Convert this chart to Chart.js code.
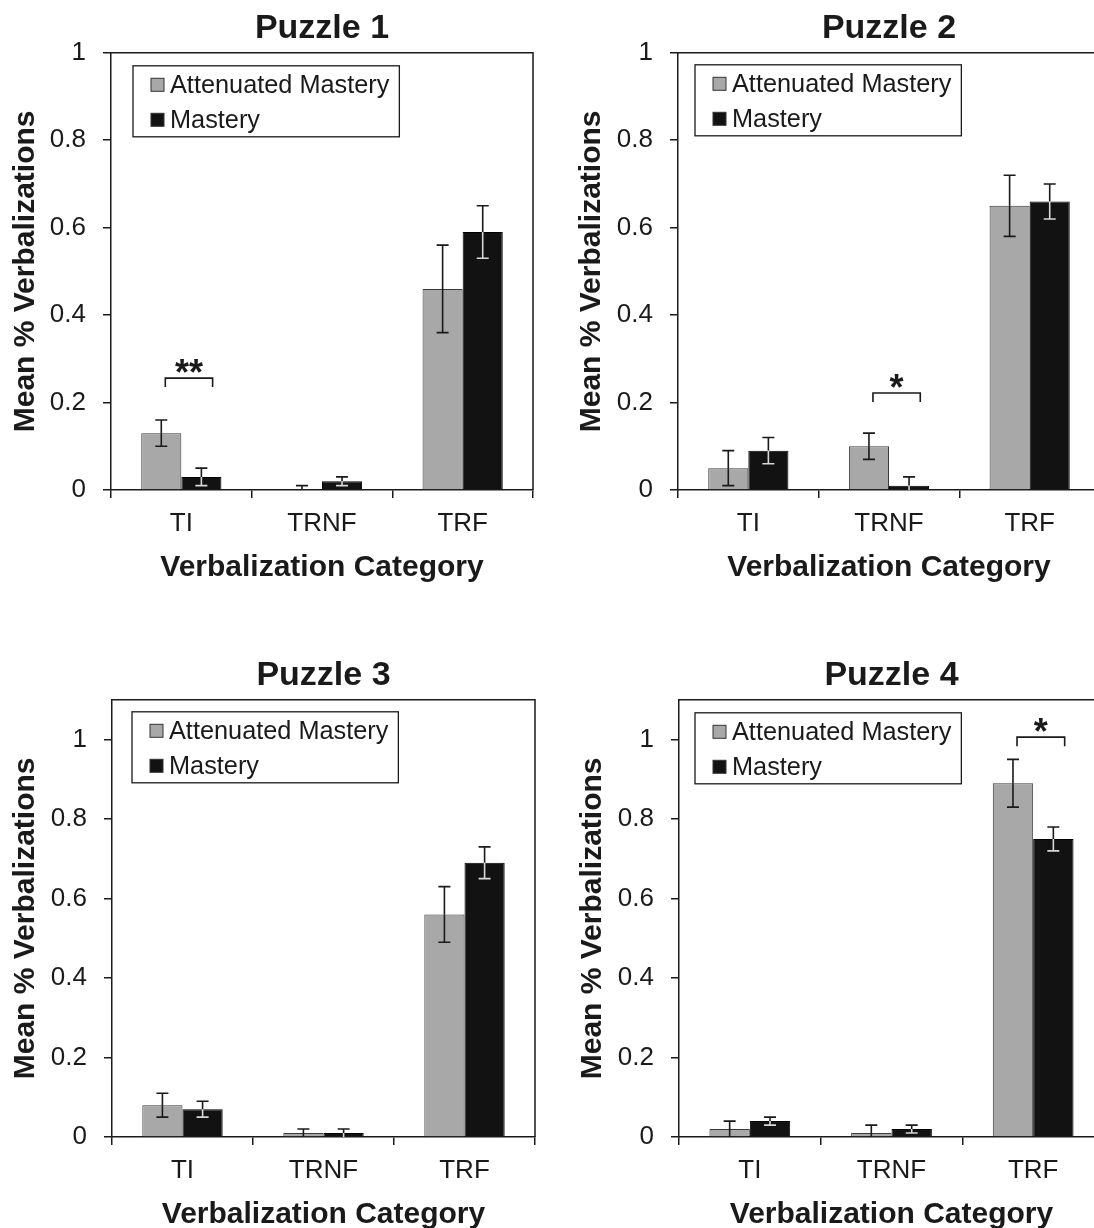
<!DOCTYPE html>
<html>
<head>
<meta charset="utf-8">
<script src="https://cdn.jsdelivr.net/npm/chart.js@4.4.1/dist/chart.umd.min.js"></script>
<style>
  html, body { margin: 0; padding: 0; background: #fff; overflow: hidden; width: 1094px; height: 1228px; }
  body { position: relative; }
  canvas { position: absolute; }
</style>
</head>
<body>
<canvas id="puzzle1" width="547" height="600" style="left:0;top:0"></canvas>
<canvas id="puzzle2" width="560" height="600" style="left:547px;top:0"></canvas>
<canvas id="puzzle3" width="547" height="600" style="left:0;top:647px"></canvas>
<canvas id="puzzle4" width="560" height="600" style="left:547px;top:647px"></canvas>
<script>
// data
const categories = ["TI", "TRNF", "TRF"];
const seriesNames = ["Attenuated Mastery", "Mastery"];
const puzzleTitles = ["Puzzle 1", "Puzzle 2", "Puzzle 3", "Puzzle 4"];
const yTicks = [0, 0.2, 0.4, 0.6, 0.8, 1];
const yMax = [1, 1, 1.1, 1.1];

const p1Attenuated = [0.13, 0, 0.46];
const p1AttenuatedErr = [0.03, 0.01, 0.10];
const p1Mastery = [0.03, 0.02, 0.59];
const p1MasteryErr = [0.02, 0.01, 0.06];

const p2Attenuated = [0.05, 0.10, 0.65];
const p2AttenuatedErr = [0.04, 0.03, 0.07];
const p2Mastery = [0.09, 0.01, 0.66];
const p2MasteryErr = [0.03, 0.02, 0.04];

const p3Attenuated = [0.08, 0.01, 0.56];
const p3AttenuatedErr = [0.03, 0.01, 0.07];
const p3Mastery = [0.07, 0.01, 0.69];
const p3MasteryErr = [0.02, 0.01, 0.04];

const p4Attenuated = [0.02, 0.01, 0.89];
const p4AttenuatedErr = [0.02, 0.02, 0.06];
const p4Mastery = [0.04, 0.02, 0.75];
const p4MasteryErr = [0.01, 0.01, 0.03];

// significance marks: label, category index, bracket height (value units)
const sigLabels = ["**", "*", null, "*"];
const sigCategory = [0, 1, null, 2];
const sigLevel = [0.256, 0.222, null, 1.006];

const FONT = '"Liberation Sans", Arial, Helvetica, sans-serif';
const INK = "#1a1a1a";
const GREY = "#a8a8a8";
const BLACK = "#121212";

// panel layout (pixels)
const panels = [
  { id: "puzzle1", yWidth: 111, yTitlePad: 8, padRight: 14, legendX: 22, legendY: 13 },
  { id: "puzzle2", yWidth: 131, yTitlePad: 27, padRight: 7, legendX: 17, legendY: 12 },
  { id: "puzzle3", yWidth: 112, yTitlePad: 8, padRight: 12, legendX: 20, legendY: 12 },
  { id: "puzzle4", yWidth: 132, yTitlePad: 28, padRight: 3, legendX: 16, legendY: 13 },
];

// the title sits over the plot, not over the whole canvas
const titleOverPlot = {
  id: "titleOverPlot",
  afterLayout(chart) {
    chart.titleBlock.left = chart.chartArea.left;
    chart.titleBlock.right = chart.chartArea.right;
    chart.titleBlock.width = chart.chartArea.right - chart.chartArea.left;
  },
};

const errorBars = {
  id: "errorBars",
  afterDatasetsDraw(chart) {
    const ctx = chart.ctx;
    const y = chart.scales.y;
    const cap = 6;
    chart.data.datasets.forEach((ds, i) => {
      chart.getDatasetMeta(i).data.forEach((bar, j) => {
        const v = ds.data[j];
        const e = ds.errors[j];
        const yTop = y.getPixelForValue(v + e);
        const yBar = y.getPixelForValue(v);
        const yLow = y.getPixelForValue(Math.max(0, v - e));
        ctx.save();
        ctx.lineWidth = 1.6;
        ctx.strokeStyle = INK;
        ctx.beginPath();
        ctx.moveTo(bar.x, yTop);
        ctx.lineTo(bar.x, yBar);
        ctx.moveTo(bar.x - cap, yTop);
        ctx.lineTo(bar.x + cap, yTop);
        ctx.stroke();
        ctx.strokeStyle = ds.errorInside;
        ctx.beginPath();
        ctx.moveTo(bar.x, yBar);
        ctx.lineTo(bar.x, yLow);
        if (v - e > 0) {
          ctx.moveTo(bar.x - cap, yLow);
          ctx.lineTo(bar.x + cap, yLow);
        }
        ctx.stroke();
        ctx.restore();
      });
    });
  },
};

const panelExtras = {
  id: "panelExtras",
  afterDraw(chart) {
    const ctx = chart.ctx;
    const area = chart.chartArea;
    const opts = chart.options.plugins.panelExtras;
    ctx.save();

    // frame round the plot
    ctx.strokeStyle = INK;
    ctx.lineWidth = 1.5;
    ctx.beginPath();
    ctx.moveTo(area.left, area.top);
    ctx.lineTo(area.right, area.top);
    ctx.lineTo(area.right, area.bottom);
    ctx.stroke();

    // boxed legend
    ctx.font = "25.3px " + FONT;
    const labels = chart.data.datasets.map((d) => d.label);
    const textW = Math.max(...labels.map((t) => ctx.measureText(t).width));
    const lx = area.left + opts.legendX;
    const ly = area.top + opts.legendY;
    ctx.lineWidth = 1.3;
    ctx.strokeRect(lx, ly, 18 + 13 + 6 + textW + 10, 71);
    chart.data.datasets.forEach((ds, i) => {
      const cy = ly + 19 + i * 35;
      ctx.fillStyle = ds.backgroundColor;
      ctx.fillRect(lx + 18, cy - 6.5, 13, 13);
      ctx.lineWidth = 1;
      ctx.strokeStyle = "#333";
      ctx.strokeRect(lx + 18, cy - 6.5, 13, 13);
      ctx.fillStyle = INK;
      ctx.textAlign = "left";
      ctx.textBaseline = "middle";
      ctx.fillText(ds.label, lx + 37, cy + 1);
    });

    // significance bracket
    if (opts.sigLabel) {
      const a = chart.getDatasetMeta(0).data[opts.sigCategory];
      const b = chart.getDatasetMeta(1).data[opts.sigCategory];
      const x0 = a.x + 0.1 * a.width;
      const x1 = b.x + 0.28 * b.width;
      const yb = chart.scales.y.getPixelForValue(opts.sigLevel);
      ctx.strokeStyle = INK;
      ctx.lineWidth = 1.6;
      ctx.beginPath();
      ctx.moveTo(x0, yb + 9);
      ctx.lineTo(x0, yb);
      ctx.lineTo(x1, yb);
      ctx.lineTo(x1, yb + 9);
      ctx.stroke();
      ctx.fillStyle = INK;
      ctx.font = "bold 36px " + FONT;
      ctx.textAlign = "center";
      ctx.textBaseline = "alphabetic";
      ctx.fillText(opts.sigLabel, (x0 + x1) / 2, yb + 7);
    }
    ctx.restore();
  },
};

function buildPuzzle(n, att, attErr, mas, masErr) {
  const p = panels[n];
  return new Chart(document.getElementById(p.id), {
    type: "bar",
    data: {
      labels: categories,
      datasets: [
        {
          label: seriesNames[0],
          data: att,
          errors: attErr,
          backgroundColor: GREY,
          borderColor: "#3a3a3a",
          borderWidth: 1,
          errorInside: INK,
        },
        {
          label: seriesNames[1],
          data: mas,
          errors: masErr,
          backgroundColor: BLACK,
          borderColor: "#000",
          borderWidth: 1,
          errorInside: "#d8d8d8",
        },
      ],
    },
    options: {
      responsive: false,
      animation: false,
      events: [],
      datasets: { bar: { barPercentage: 1, categoryPercentage: 0.57 } },
      layout: { padding: { left: 0, right: p.padRight, top: 0, bottom: 0 } },
      plugins: {
        legend: { display: false },
        tooltip: { enabled: false },
        title: {
          display: true,
          text: puzzleTitles[n],
          color: INK,
          font: { family: FONT, size: 34, weight: "bold" },
          padding: { top: 8, bottom: 4 },
        },
        panelExtras: {
          legendX: p.legendX,
          legendY: p.legendY,
          sigLabel: sigLabels[n],
          sigCategory: sigCategory[n],
          sigLevel: sigLevel[n],
        },
      },
      scales: {
        x: {
          grid: { drawOnChartArea: false, tickLength: 8, color: INK, lineWidth: 1.5, offset: true },
          border: { color: INK, width: 1.5 },
          ticks: { color: INK, padding: 10, font: { family: FONT, size: 26 } },
          title: {
            display: true,
            text: "Verbalization Category",
            color: INK,
            font: { family: FONT, size: 30, weight: "bold" },
            padding: { top: 0, bottom: 14 },
          },
          afterFit(scale) { scale.height = 110; },
        },
        y: {
          min: 0,
          max: yMax[n],
          afterBuildTicks(scale) { scale.ticks = yTicks.map((v) => ({ value: v })); },
          grid: { drawOnChartArea: false, tickLength: 8, color: INK, lineWidth: 1.5 },
          border: { color: INK, width: 1.5 },
          ticks: { color: INK, padding: 17, font: { family: FONT, size: 26 }, callback: (v) => String(v) },
          title: {
            display: true,
            text: "Mean % Verbalizations",
            color: INK,
            font: { family: FONT, size: 30, weight: "bold" },
            padding: { top: p.yTitlePad, bottom: 0 },
          },
          afterFit(scale) { scale.width = p.yWidth; },
        },
      },
    },
    plugins: [titleOverPlot, errorBars, panelExtras],
  });
}

buildPuzzle(0, p1Attenuated, p1AttenuatedErr, p1Mastery, p1MasteryErr);
buildPuzzle(1, p2Attenuated, p2AttenuatedErr, p2Mastery, p2MasteryErr);
buildPuzzle(2, p3Attenuated, p3AttenuatedErr, p3Mastery, p3MasteryErr);
buildPuzzle(3, p4Attenuated, p4AttenuatedErr, p4Mastery, p4MasteryErr);
</script>
</body>
</html>
